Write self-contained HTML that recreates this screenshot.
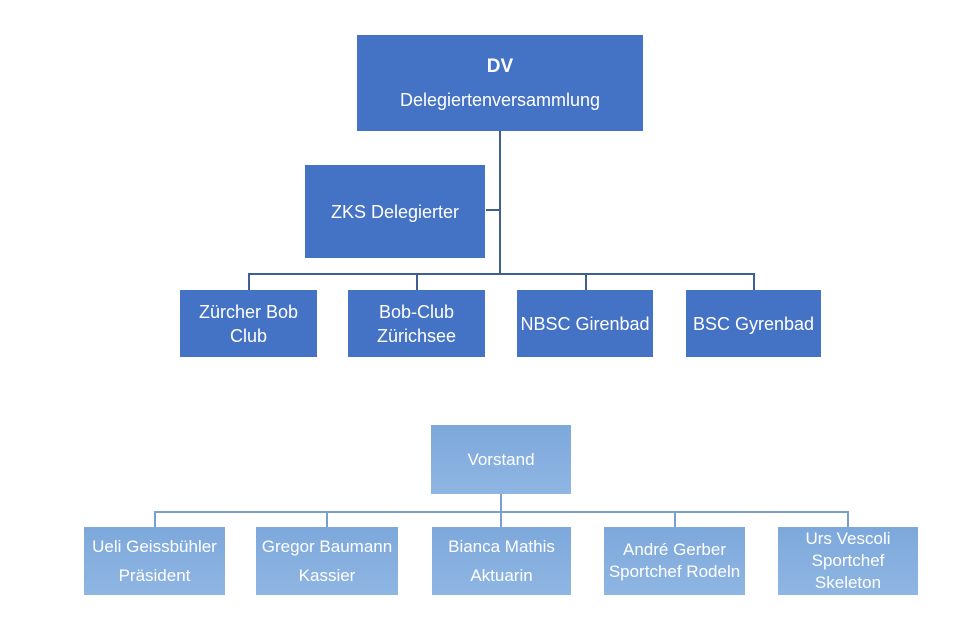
<!DOCTYPE html>
<html><head><style>
body{margin:0;width:978px;height:623px;background:#fff;position:relative;overflow:hidden;font-family:"Liberation Sans Narrow","Liberation Sans",sans-serif;}
.b{position:absolute;display:flex;align-items:center;justify-content:center;text-align:center;color:#fff;font-size:18px;line-height:24px;}
.d{background:#4472C4;}
.l{background:linear-gradient(#7DA8DB,#8FB6E3);font-size:17px;}
.h{position:absolute;background:#3E5F8F;}
.g{position:absolute;background:#7A9FCB;}
</style></head><body>
<div class="b d" style="left:357px;top:35px;width:286px;height:96px;flex-direction:column;"><b style="line-height:26px;font-size:19px">DV</b><span style="margin-top:8px">Delegiertenversammlung</span></div>
<div class="h" style="left:499px;top:131px;width:2px;height:144px"></div>
<div class="b d" style="left:305px;top:165px;width:180px;height:93px;">ZKS Delegierter</div>
<div class="h" style="left:486px;top:209px;width:14px;height:2px"></div>
<div class="h" style="left:248px;top:273px;width:507px;height:2px"></div>
<div class="h" style="left:248px;top:273px;width:2px;height:17px"></div>
<div class="h" style="left:416px;top:273px;width:2px;height:17px"></div>
<div class="h" style="left:585px;top:273px;width:2px;height:17px"></div>
<div class="h" style="left:753px;top:273px;width:2px;height:17px"></div>
<div class="b d" style="left:180px;top:290px;width:137px;height:67px;">Zürcher Bob<br>Club</div>
<div class="b d" style="left:348px;top:290px;width:137px;height:67px;">Bob-Club<br>Zürichsee</div>
<div class="b d" style="left:517px;top:290px;width:136px;height:67px;">NBSC Girenbad</div>
<div class="b d" style="left:686px;top:290px;width:135px;height:67px;">BSC Gyrenbad</div>

<div class="b l" style="left:431px;top:425px;width:140px;height:69px;">Vorstand</div>
<div class="g" style="left:500px;top:494px;width:2px;height:33px"></div>
<div class="g" style="left:154px;top:511px;width:695px;height:2px"></div>
<div class="g" style="left:154px;top:511px;width:2px;height:16px"></div>
<div class="g" style="left:326px;top:511px;width:2px;height:16px"></div>
<div class="g" style="left:674px;top:511px;width:2px;height:16px"></div>
<div class="g" style="left:847px;top:511px;width:2px;height:16px"></div>
<div class="b l" style="left:84px;top:527px;width:141px;height:68px;line-height:29px">Ueli Geissbühler<br>Präsident</div>
<div class="b l" style="left:256px;top:527px;width:142px;height:68px;line-height:29px">Gregor Baumann<br>Kassier</div>
<div class="b l" style="left:432px;top:527px;width:139px;height:68px;line-height:29px">Bianca Mathis<br>Aktuarin</div>
<div class="b l" style="left:604px;top:527px;width:141px;height:68px;line-height:22px">André Gerber<br>Sportchef Rodeln</div>
<div class="b l" style="left:778px;top:527px;width:140px;height:68px;line-height:22px">Urs Vescoli<br>Sportchef<br>Skeleton</div>
</body></html>
